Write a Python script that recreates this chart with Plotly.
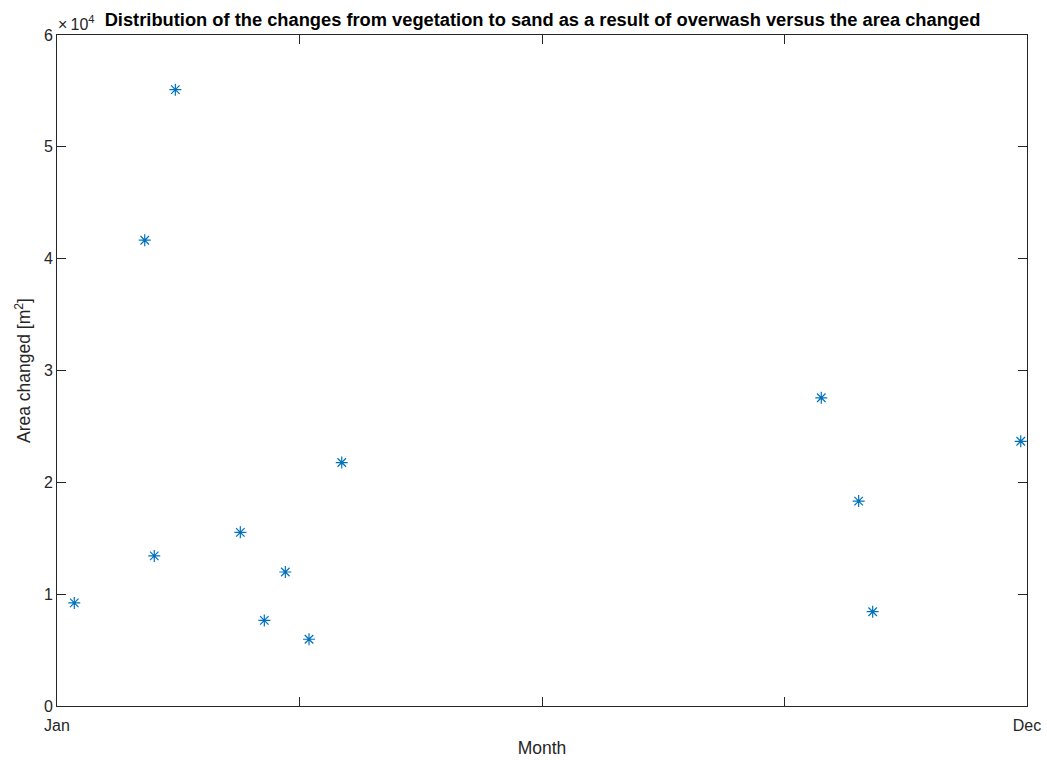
import plotly.graph_objects as go

# Data (x in fractional months, 1 = Jan, 12 = Dec)
month = [1.196, 1.995, 2.103, 2.342, 3.079, 3.351, 3.589, 3.858, 4.229,
         9.667, 10.091, 10.250, 11.929]
area = [9220, 41650, 13420, 55110, 15530, 7650, 11980, 5970, 21770,
        27560, 18320, 8430, 23670]

x_tickvals = [1, 3.75, 6.5, 9.25, 12]
x_ticktext = ["Jan", "", "", "", "Dec"]
y_tickvals = [0, 10000, 20000, 30000, 40000, 50000, 60000]
y_ticktext = ["0", "1", "2", "3", "4", "5", "6"]

axis_col = "#262626"
font_fam = "Liberation Sans, Arial, Helvetica, sans-serif"

W, H = 1047, 760

fig = go.Figure()
fig.add_trace(go.Scatter(
    x=month, y=area, mode="markers",
    marker=dict(symbol="asterisk-open", size=10, color="#0072BD",
                line=dict(color="#0072BD", width=1.2)),
    showlegend=False,
))

fig.update_layout(
    width=W, height=H,
    margin=dict(l=57, r=20, t=35, b=54),
    paper_bgcolor="white", plot_bgcolor="white",
    font=dict(family=font_fam, color=axis_col, size=16),
    title=dict(
        text="<b>Distribution of the changes from vegetation to sand as a result of overwash versus the area changed</b>",
        x=542.5 / W, xanchor="center", xref="container",
        y=1 - 20 / H, yanchor="middle", yref="container",
        font=dict(size=18.3, color="black", family=font_fam),
    ),
    xaxis=dict(
        range=[1, 12], tickvals=x_tickvals, ticktext=x_ticktext,
        showgrid=False, zeroline=False, showline=True, linecolor=axis_col,
        linewidth=1, mirror="ticks", ticks="inside", ticklen=9,
        tickcolor=axis_col, tickfont=dict(size=16, color=axis_col),
        ticklabelstandoff=5,
        automargin=False,
        title=dict(text="Month", font=dict(size=17.5, color=axis_col), standoff=8),
    ),
    yaxis=dict(
        range=[0, 60000], tickvals=y_tickvals, ticktext=y_ticktext,
        showgrid=False, zeroline=False, showline=True, linecolor=axis_col,
        linewidth=1, mirror="ticks", ticks="inside", ticklen=9,
        tickcolor=axis_col, tickfont=dict(size=16, color=axis_col),
        automargin=False,
        title=dict(text="Area changed [m<sup>2</sup>]", font=dict(size=17.5, color=axis_col), standoff=8),
    ),
    annotations=[dict(
        text="×\u200910<sup>4</sup>", xref="paper", yref="paper", x=0.0, y=1.0,
        xanchor="left", yanchor="bottom", showarrow=False, xshift=-1,
        font=dict(size=16, color=axis_col, family=font_fam),
    )],
)

fig.write_html(
    "out.html",
    config={"displayModeBar": False},
    post_script="document.body.style.margin='0';document.body.style.overflow='hidden';",
)
